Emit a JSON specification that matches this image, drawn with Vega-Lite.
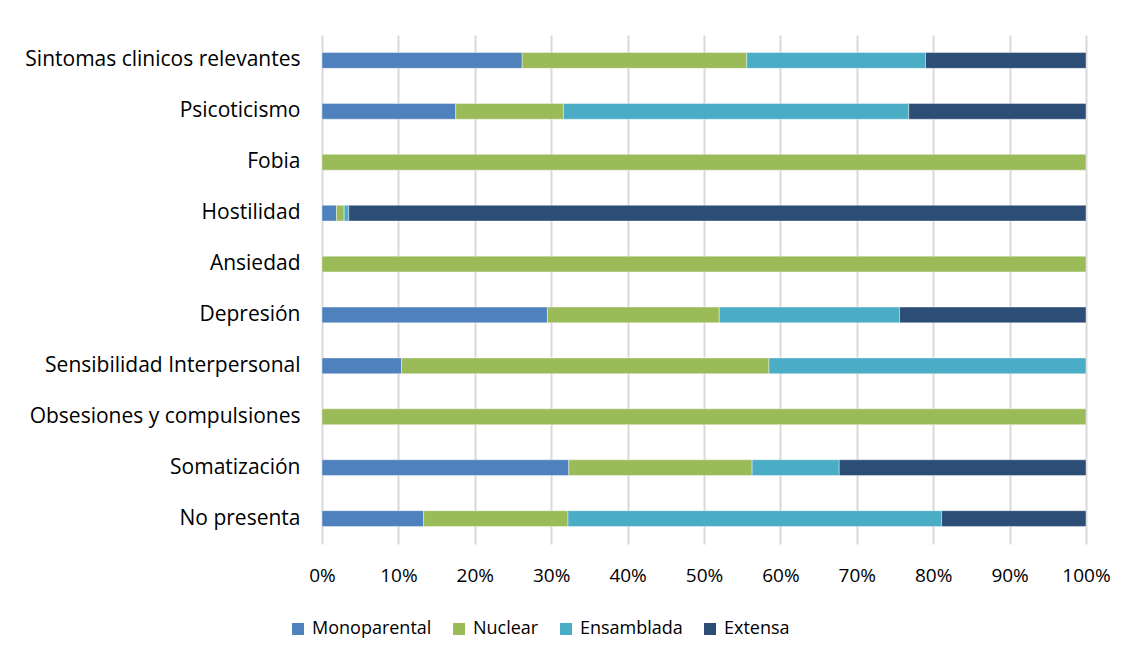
{
  "$schema": "https://vega.github.io/schema/vega-lite/v6.json",
  "autosize": {"type": "none"},
  "padding": {"left": 322, "top": 35, "right": 47, "bottom": 120},
  "width": 764,
  "height": 509,
  "background": "white",
  "config": {
    "font": "Open Sans",
    "view": {"stroke": null},
    "axis": {"labelFont": "Open Sans", "labelColor": "#000000", "labelFontSize": 19}
  },
  "data": {
    "values": [
      {"sintoma": "Sintomas clinicos relevantes", "familia": "Monoparental", "orden": 1, "pct": 26.2},
      {"sintoma": "Sintomas clinicos relevantes", "familia": "Nuclear", "orden": 2, "pct": 29.4},
      {"sintoma": "Sintomas clinicos relevantes", "familia": "Ensamblada", "orden": 3, "pct": 23.4},
      {"sintoma": "Sintomas clinicos relevantes", "familia": "Extensa", "orden": 4, "pct": 21.0},
      {"sintoma": "Psicoticismo", "familia": "Monoparental", "orden": 1, "pct": 17.5},
      {"sintoma": "Psicoticismo", "familia": "Nuclear", "orden": 2, "pct": 14.1},
      {"sintoma": "Psicoticismo", "familia": "Ensamblada", "orden": 3, "pct": 45.2},
      {"sintoma": "Psicoticismo", "familia": "Extensa", "orden": 4, "pct": 23.2},
      {"sintoma": "Fobia", "familia": "Nuclear", "orden": 2, "pct": 100},
      {"sintoma": "Hostilidad", "familia": "Monoparental", "orden": 1, "pct": 1.9},
      {"sintoma": "Hostilidad", "familia": "Nuclear", "orden": 2, "pct": 1.0},
      {"sintoma": "Hostilidad", "familia": "Ensamblada", "orden": 3, "pct": 0.6},
      {"sintoma": "Hostilidad", "familia": "Extensa", "orden": 4, "pct": 96.5},
      {"sintoma": "Ansiedad", "familia": "Nuclear", "orden": 2, "pct": 100},
      {"sintoma": "Depresión", "familia": "Monoparental", "orden": 1, "pct": 29.5},
      {"sintoma": "Depresión", "familia": "Nuclear", "orden": 2, "pct": 22.5},
      {"sintoma": "Depresión", "familia": "Ensamblada", "orden": 3, "pct": 23.6},
      {"sintoma": "Depresión", "familia": "Extensa", "orden": 4, "pct": 24.4},
      {"sintoma": "Sensibilidad Interpersonal", "familia": "Monoparental", "orden": 1, "pct": 10.4},
      {"sintoma": "Sensibilidad Interpersonal", "familia": "Nuclear", "orden": 2, "pct": 48.1},
      {"sintoma": "Sensibilidad Interpersonal", "familia": "Ensamblada", "orden": 3, "pct": 41.5},
      {"sintoma": "Obsesiones y compulsiones", "familia": "Nuclear", "orden": 2, "pct": 100},
      {"sintoma": "Somatización", "familia": "Monoparental", "orden": 1, "pct": 32.3},
      {"sintoma": "Somatización", "familia": "Nuclear", "orden": 2, "pct": 24.0},
      {"sintoma": "Somatización", "familia": "Ensamblada", "orden": 3, "pct": 11.4},
      {"sintoma": "Somatización", "familia": "Extensa", "orden": 4, "pct": 32.3},
      {"sintoma": "No presenta", "familia": "Monoparental", "orden": 1, "pct": 13.3},
      {"sintoma": "No presenta", "familia": "Nuclear", "orden": 2, "pct": 18.9},
      {"sintoma": "No presenta", "familia": "Ensamblada", "orden": 3, "pct": 48.9},
      {"sintoma": "No presenta", "familia": "Extensa", "orden": 4, "pct": 18.9}
    ]
  },
  "mark": {"type": "bar", "stroke": "white", "strokeWidth": 0.4},
  "encoding": {
    "y": {
      "field": "sintoma",
      "type": "nominal",
      "sort": [
        "Sintomas clinicos relevantes", "Psicoticismo", "Fobia", "Hostilidad", "Ansiedad",
        "Depresión", "Sensibilidad Interpersonal", "Obsesiones y compulsiones", "Somatización", "No presenta"
      ],
      "scale": {"paddingInner": 0.69, "paddingOuter": 0.345},
      "axis": {
        "title": null,
        "ticks": false,
        "domain": false,
        "labelPadding": 22,
        "labelFontSize": 21,
        "labelLimit": 320
      }
    },
    "x": {
      "field": "pct",
      "type": "quantitative",
      "stack": "normalize",
      "scale": {"domain": [0, 1], "nice": false},
      "axis": {
        "title": null,
        "format": ".0%",
        "values": [0, 0.1, 0.2, 0.3, 0.4, 0.5, 0.6, 0.7, 0.8, 0.9, 1],
        "ticks": false,
        "domain": false,
        "grid": true,
        "gridColor": "#D9D9D9",
        "gridWidth": 2,
        "labelPadding": 22,
        "labelFlush": false
      }
    },
    "order": {"field": "orden", "type": "quantitative"},
    "color": {
      "field": "familia",
      "type": "nominal",
      "scale": {
        "domain": ["Monoparental", "Nuclear", "Ensamblada", "Extensa"],
        "range": ["#4F81BD", "#9BBB59", "#4BACC6", "#2C4D75"]
      },
      "legend": {
        "title": null,
        "orient": "none",
        "direction": "horizontal",
        "legendX": -33,
        "legendY": 585,
        "symbolType": "square",
        "symbolSize": 144,
        "symbolStrokeWidth": 0,
        "labelFont": "Open Sans",
        "labelFontSize": 18,
        "labelColor": "#000000",
        "labelOffset": 5,
        "columnPadding": 18
      }
    }
  }
}
